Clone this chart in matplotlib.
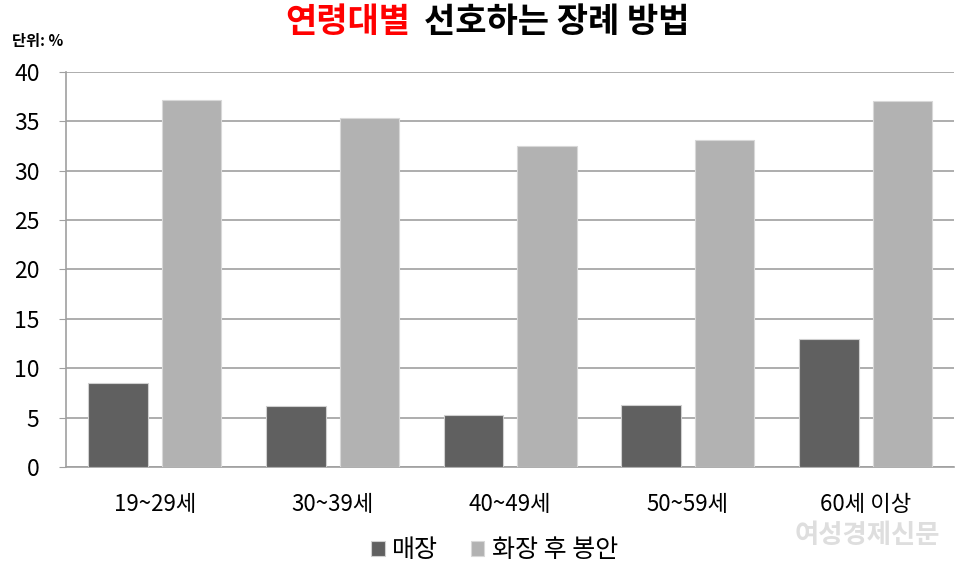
import matplotlib
matplotlib.use("Agg")
import matplotlib.pyplot as plt
import numpy as np

plt.rcParams['font.family'] = ['Noto Sans CJK KR', 'DejaVu Sans']

categories = ['19~29세', '30~39세', '40~49세', '50~59세', '60세 이상']
burial = [8.5, 6.2, 5.3, 6.3, 13.0]
cremation = [37.2, 35.3, 32.5, 33.1, 37.1]
series_names = ['매장', '화장 후 봉안']
yticks = [0, 5, 10, 15, 20, 25, 30, 35, 40]

fig = plt.figure(figsize=(9.6, 5.72), dpi=100)
ax = fig.add_axes([0.06875, 0.1836, 0.9255, 0.6905])

x = np.arange(len(categories))
w = 0.335
off = 0.207
ax.bar(x - off, burial, w, color='#606060', edgecolor='#d0d0d0', linewidth=0.8, label=series_names[0], zorder=3)
ax.bar(x + off, cremation, w, color='#b2b2b2', edgecolor='#d8d8d8', linewidth=0.8, label=series_names[1], zorder=3)

ax.set_xlim(-0.5, len(categories) - 0.5)
ax.set_ylim(0, 40)
ax.set_yticks(yticks)
ax.set_yticklabels([str(v) for v in yticks], fontsize=16.5)
ax.set_xticks(x)
ax.set_xticklabels(categories, fontsize=16)
ax.tick_params(axis='x', length=0, pad=19)
ax.tick_params(axis='y', length=5, color='#a0a0a0', pad=14)
ax.yaxis.grid(True, color='#a0a0a0', linewidth=1.2, zorder=0)
for s in ['top', 'right']:
    ax.spines[s].set_visible(False)
ax.spines['left'].set_color('#a0a0a0')
ax.spines['bottom'].set_color('#a0a0a0')
ax.spines['left'].set_linewidth(1.2)
ax.spines['bottom'].set_linewidth(1.2)

fig.canvas.draw()
r = fig.canvas.get_renderer()
t1 = fig.text(285 / 960, 0.962, '연령대별', color='#ff0000', fontsize=24.5, fontweight='bold', ha='left', va='center')
bb = t1.get_window_extent(renderer=r)
fig.text((bb.x1 + 14) / 960, 0.962, '선호하는 장례 방법', color='#000000', fontsize=24.5, fontweight='bold', ha='left', va='center')
fig.text(0.012, 0.929, '단위: %', fontsize=11, fontweight='bold', ha='left', va='center')

leg = fig.legend(loc='center', bbox_to_anchor=(0.515, 0.038), ncol=2, frameon=False,
                 fontsize=18, handlelength=0.55, handleheight=0.55, handletextpad=0.3, columnspacing=1.3)

fig.text(0.903, 0.063, '여성경제신문', color='#dedede', fontsize=19, fontweight='bold', ha='center', va='center')

fig.savefig('out.png', dpi=100)
